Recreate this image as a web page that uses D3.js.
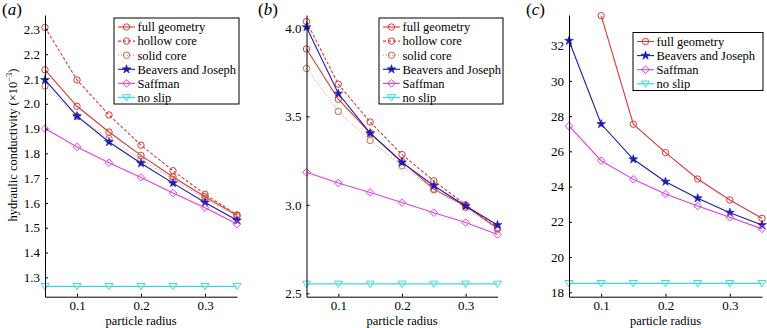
<!DOCTYPE html>
<html>
<head>
<meta charset="utf-8">
<script src="https://cdn.jsdelivr.net/npm/d3@7"></script>
<style>
  body { margin: 0; background: #fff; }
  svg text { font-family: "Liberation Serif", "Times New Roman", serif; fill: #000; }
</style>
</head>
<body>
<div id="chart"></div>
<script>
// particle radius on every panel
var radius = [0.05, 0.1, 0.15, 0.2, 0.25, 0.3, 0.35];
var xTicks = [0.1, 0.2, 0.3];

// panel (a)
var aFull   = [2.137, 1.990, 1.886, 1.792, 1.705, 1.625, 1.550];
var aHollow = [2.308, 2.096, 1.955, 1.833, 1.730, 1.635, 1.552];
var aSolid  = [2.072, 1.950, 1.860, 1.775, 1.695, 1.618, 1.545];
var aBJ     = [2.096, 1.950, 1.846, 1.760, 1.680, 1.602, 1.530];
var aSaff   = [1.900, 1.826, 1.762, 1.703, 1.640, 1.581, 1.515];
var aNoSlip = [1.264, 1.264, 1.264, 1.264, 1.264, 1.264, 1.264];
var aTicks  = [1.3, 1.4, 1.5, 1.6, 1.7, 1.8, 1.9, 2.0, 2.1, 2.2, 2.3];

// panel (b)
var bFull   = [3.881, 3.597, 3.405, 3.244, 3.089, 2.994, 2.867];
var bHollow = [4.036, 3.682, 3.468, 3.284, 3.136, 3.000, 2.870];
var bSolid  = [3.771, 3.528, 3.364, 3.220, 3.085, 2.985, 2.862];
var bBJ     = [4.004, 3.629, 3.405, 3.240, 3.108, 2.994, 2.886];
var bSaff   = [3.184, 3.123, 3.070, 3.013, 2.956, 2.900, 2.833];
var bNoSlip = [2.553, 2.553, 2.553, 2.553, 2.553, 2.553, 2.553];
var bTicks  = [2.5, 3.0, 3.5, 4.0];

// panel (c) -- full geometry at 0.05 is off the top of the axes
var cFull   = [null, 33.70, 27.54, 25.93, 24.43, 23.24, 22.20];
var cBJ     = [32.28, 27.55, 25.55, 24.28, 23.34, 22.52, 21.82];
var cSaff   = [27.44, 25.47, 24.41, 23.58, 22.90, 22.26, 21.60];
var cNoSlip = [18.51, 18.51, 18.51, 18.51, 18.51, 18.51, 18.51];
var cTicks  = [18, 20, 22, 24, 26, 28, 30, 32];

var red = "#d93a35", blue = "#1c1cb0", magenta = "#e040e0", cyan = "#40d8e0";

var styles = {
    full:   { name: "full geometry",      color: red,     marker: "circle",   dash: null,  width: 1.1 },
    hollow: { name: "hollow core",        color: red,     marker: "circle",   dash: "3,2", width: 1.1 },
    solid:  { name: "solid core",         color: "#c86a50", marker: "circle", dash: "1,2", width: 0.8 },
    bj:     { name: "Beavers and Joseph", color: blue,    marker: "star",     dash: null,  width: 1.1 },
    saff:   { name: "Saffman",            color: magenta, marker: "diamond",  dash: null,  width: 1.1 },
    noslip: { name: "no slip",            color: cyan,    marker: "triangle", dash: null,  width: 1.3 }
};

var panels = [
    { label: "a", labelX: 2, x0: 45, x1: 237, yDomain: [1.222, 2.358], ticks: aTicks, fmt: d3.format(".1f"),
      series: [["full", aFull], ["hollow", aHollow], ["solid", aSolid], ["bj", aBJ], ["saff", aSaff], ["noslip", aNoSlip]],
      legend: { x: 114, y: 18, w: 125, h: 86 } },
    { label: "b", labelX: 258, x0: 306.5, x1: 497.5, yDomain: [2.481, 4.073], ticks: bTicks, fmt: d3.format(".1f"),
      series: [["full", bFull], ["hollow", bHollow], ["solid", bSolid], ["bj", bBJ], ["saff", bSaff], ["noslip", bNoSlip]],
      legend: { x: 379, y: 18, w: 124, h: 86 } },
    { label: "c", labelX: 526, x0: 569, x1: 762, yDomain: [17.75, 33.74], ticks: cTicks, fmt: d3.format("d"),
      series: [["full", cFull], ["bj", cBJ], ["saff", cSaff], ["noslip", cNoSlip]],
      legend: { x: 633, y: 32.5, w: 130, h: 58 } }
];

var W = 767, H = 328, top_y = 15, bottom_y = 296.7;

var svg = d3.select("#chart").append("svg")
    .attr("width", W).attr("height", H);

function drawMarker(g, type, color) {
    if (type == "circle") {
        g.append("circle").attr("r", 3.2).attr("fill", "none").attr("stroke", color).attr("stroke-width", 1);
    } else if (type == "star") {
        g.append("path").attr("d", d3.symbol().type(d3.symbolStar).size(24)())
            .attr("fill", color).attr("stroke", color).attr("stroke-width", 0.6);
    } else if (type == "diamond") {
        g.append("path").attr("d", "M0,-3.8L3.8,0L0,3.8L-3.8,0Z")
            .attr("fill", "none").attr("stroke", color).attr("stroke-width", 1);
    } else if (type == "triangle") {
        g.append("path").attr("d", "M-4,-2.8L4,-2.8L0,3.6Z")
            .attr("fill", "none").attr("stroke", color).attr("stroke-width", 1);
    }
}

panels.forEach(function (p) {
    var x = d3.scaleLinear().domain([0.05, 0.35]).range([p.x0, p.x1]);
    var y = d3.scaleLinear().domain(p.yDomain).range([bottom_y, top_y]);
    var g = svg.append("g");

    // series lines and markers
    p.series.forEach(function (s) {
        var st = styles[s[0]];
        var pts = radius.map(function (r, i) { return [r, s[1][i]]; })
            .filter(function (d) { return d[1] != null; });
        var line = d3.line().x(function (d) { return x(d[0]); }).y(function (d) { return y(d[1]); });
        g.append("path").datum(pts)
            .attr("d", line)
            .attr("fill", "none")
            .attr("stroke", st.color)
            .attr("stroke-width", st.width)
            .attr("stroke-dasharray", st.dash);
        pts.forEach(function (d) {
            var m = g.append("g").attr("transform", "translate(" + x(d[0]) + "," + y(d[1]) + ")");
            drawMarker(m, st.marker, st.color);
        });
    });

    // axes (matlab style: inward ticks, no box)
    var yAxis = d3.axisLeft(y).tickValues(p.ticks).tickFormat(p.fmt).tickSizeInner(-3).tickSizeOuter(0).tickPadding(5);
    var yg = g.append("g").attr("transform", "translate(" + p.x0 + ",0)").call(yAxis);
    var xAxis = d3.axisBottom(x).tickValues(xTicks).tickFormat(d3.format(".1f")).tickSizeInner(-3).tickSizeOuter(0).tickPadding(4);
    var xg = g.append("g").attr("transform", "translate(0," + bottom_y + ")").call(xAxis);
    [yg, xg].forEach(function (a) {
        a.attr("font-family", null);
        a.select(".domain").attr("stroke", "#000").attr("stroke-width", 1);
        a.selectAll(".tick line").attr("stroke", "#000");
        a.selectAll("text").attr("font-size", "13px")
            .style("font-family", "'Liberation Serif', 'Times New Roman', serif");
    });

    g.append("text")
        .attr("x", (p.x0 + p.x1) / 2)
        .attr("y", 324.5)
        .attr("text-anchor", "middle")
        .attr("font-size", "12.5px")
        .text("particle radius");

    // panel label
    var lab = g.append("text")
        .attr("x", p.labelX)
        .attr("y", 15)
        .attr("font-size", "17px");
    lab.append("tspan").text("(");
    lab.append("tspan").attr("font-style", "italic").text(p.label);
    lab.append("tspan").text(")");

    // legend
    var L = p.legend;
    var lg = g.append("g");
    lg.append("rect")
        .attr("x", L.x).attr("y", L.y).attr("width", L.w).attr("height", L.h)
        .attr("fill", "#fff").attr("stroke", "#000").attr("stroke-width", 1);
    p.series.forEach(function (s, i) {
        var st = styles[s[0]];
        var cy = L.y + 9 + i * 14.1;
        lg.append("line")
            .attr("x1", L.x + 4).attr("x2", L.x + 21)
            .attr("y1", cy).attr("y2", cy)
            .attr("stroke", st.color).attr("stroke-width", st.width)
            .attr("stroke-dasharray", st.dash);
        var m = lg.append("g").attr("transform", "translate(" + (L.x + 12.5) + "," + cy + ")");
        drawMarker(m, st.marker, st.color);
        lg.append("text")
            .attr("x", L.x + 23.5)
            .attr("y", cy + 4.3)
            .attr("font-size", "12.5px")
            .text(st.name);
    });
});

// y axis title on panel (a)
var yt = svg.append("text")
    .attr("transform", "translate(17,145) rotate(-90)")
    .attr("text-anchor", "middle")
    .attr("font-size", "12.5px");
yt.append("tspan").text("hydraulic conductivity (\u00d710");
yt.append("tspan").attr("font-size", "8.5px").attr("dy", -5).text("\u22123");
yt.append("tspan").attr("dy", 5).text(")");
</script>
</body>
</html>
